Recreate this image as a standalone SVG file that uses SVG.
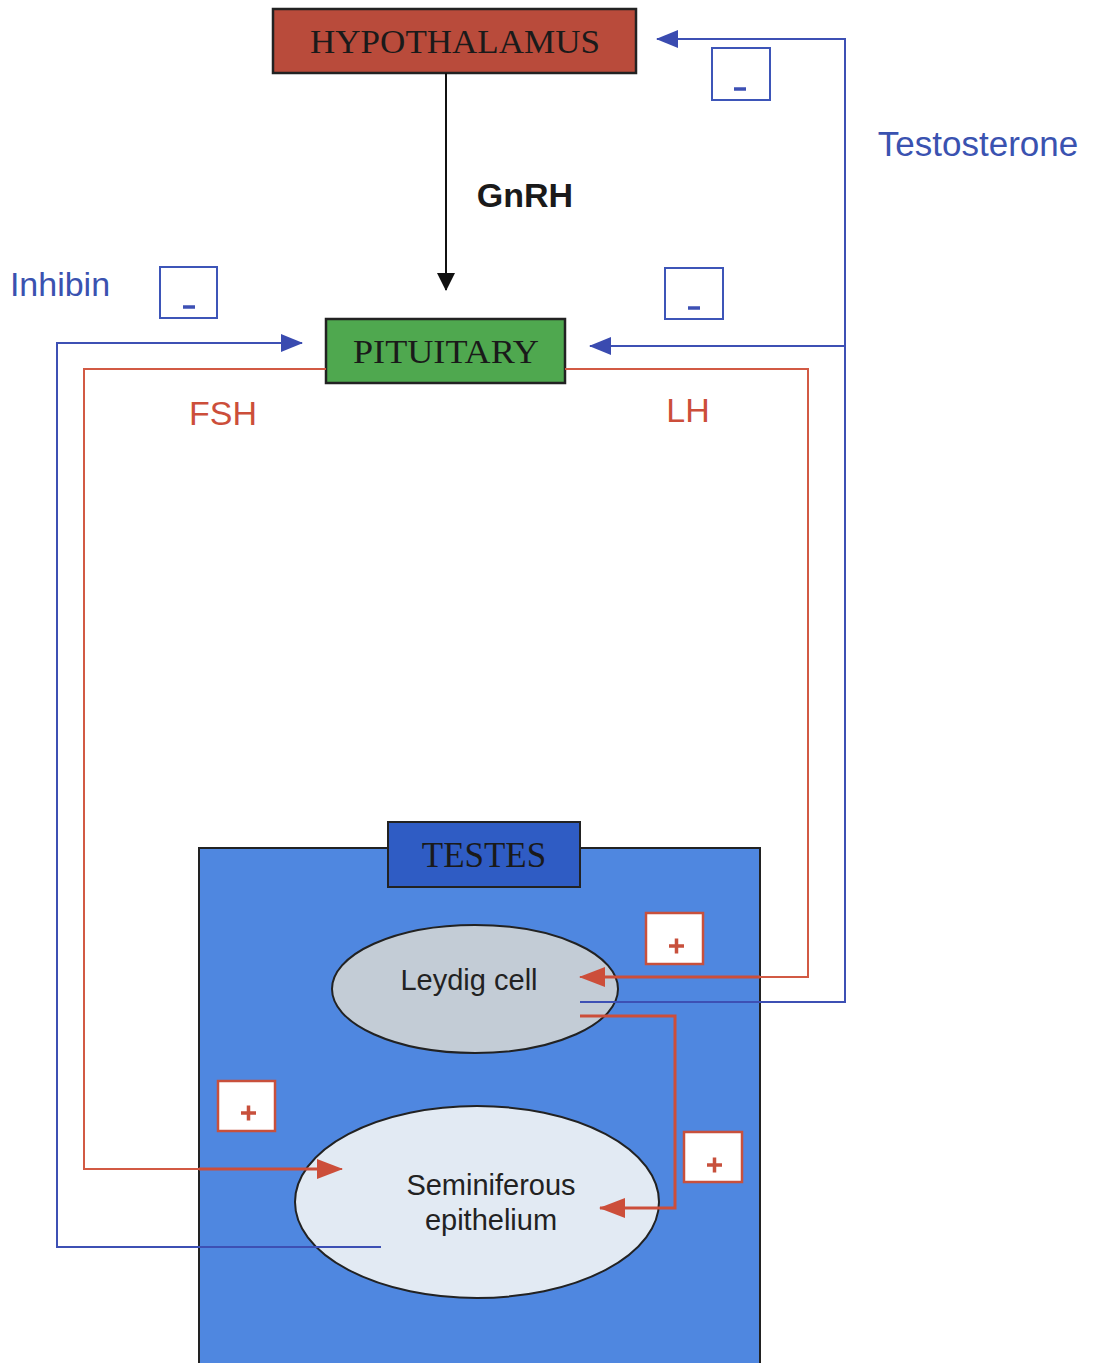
<svg xmlns="http://www.w3.org/2000/svg" width="1098" height="1363" viewBox="0 0 1098 1363">
<style>
.serif{font-family:"Liberation Serif","Times New Roman",serif;fill:#1a1a1a;text-anchor:middle}
.sans{font-family:"Liberation Sans",Arial,sans-serif;text-anchor:middle}
.blue{stroke:#3d50b4;fill:none;stroke-width:2}
.red{stroke:#d25a44;fill:none;stroke-width:2}
.redt{stroke:#cc4e3a;fill:none;stroke-width:3}
.minus{fill:#fff;stroke:#3d55b8;stroke-width:2}
.plus{fill:#fff;stroke:#c8503c;stroke-width:2.5}
</style>
<defs>
<marker id="ab" markerUnits="userSpaceOnUse" markerWidth="22" markerHeight="18" refX="21" refY="9" orient="auto"><path d="M0,0 L22,9 L0,18 Z" fill="#3a4bb0"/></marker>
<marker id="ar" markerUnits="userSpaceOnUse" markerWidth="26" markerHeight="20" refX="25" refY="10" orient="auto"><path d="M0,0 L26,10 L0,20 Z" fill="#cc4e3a"/></marker>
<marker id="ak" markerUnits="userSpaceOnUse" markerWidth="18" markerHeight="22" refX="17" refY="9" orient="auto"><path d="M0,0 L18,9 L0,18 Z" fill="#111"/></marker>
</defs>

<g id="testes">
<rect x="199" y="848" width="561" height="520" fill="#4f87e0" stroke="#222" stroke-width="2"/>
<rect x="388" y="822" width="192" height="65" fill="#2f5cc4" stroke="#222" stroke-width="2"/>
<text class="serif" x="484" y="867" font-size="35">TESTES</text>
</g>

<g id="hypothalamus">
<rect x="273" y="9" width="363" height="64" fill="#b94b3b" stroke="#222" stroke-width="2.5"/>
<text class="serif" x="455" y="53" font-size="33" textLength="290" lengthAdjust="spacingAndGlyphs">HYPOTHALAMUS</text>
</g>

<g id="pituitary">
<rect x="326" y="319" width="239" height="64" fill="#4fa84f" stroke="#222" stroke-width="2.5"/>
<text class="serif" x="446" y="363" font-size="34" textLength="186" lengthAdjust="spacingAndGlyphs">PITUITARY</text>
</g>

<g id="leydig">
<ellipse cx="475" cy="989" rx="143" ry="64" fill="#c3ccd6" stroke="#222" stroke-width="2"/>
<text class="sans" x="469" y="990" font-size="29" fill="#222">Leydig cell</text>
</g>

<g id="seminiferous">
<ellipse cx="477" cy="1202" rx="182" ry="96" fill="#e2eaf3" stroke="#222" stroke-width="2"/>
<text class="sans" x="491" y="1195" font-size="29" fill="#222">Seminiferous</text>
<text class="sans" x="491" y="1230" font-size="29" fill="#222">epithelium</text>
</g>

<g id="connectors">
<line x1="446" y1="73" x2="446" y2="290" stroke="#111" stroke-width="2" marker-end="url(#ak)"/>
<polyline class="blue" points="580,1002 845,1002 845,39 657,39" marker-end="url(#ab)"/>
<polyline class="blue" points="845,346 590,346" marker-end="url(#ab)"/>
<polyline class="blue" points="381,1247 57,1247 57,343 302,343" marker-end="url(#ab)"/>
<polyline class="red" points="326,369 84,369 84,1169 342,1169" marker-end="url(#ar)"/>
<polyline class="red" points="565,369 808,369 808,977 580,977" marker-end="url(#ar)"/>
<polyline class="redt" points="580,1016 675,1016 675,1208 600,1208" marker-end="url(#ar)"/>
<line class="redt" x1="199" y1="1169" x2="320" y2="1169"/>
<line class="redt" x1="760" y1="977" x2="600" y2="977"/>
</g>

<g id="signs">
<rect class="minus" x="712" y="48" width="58" height="52"/>
<line x1="734" y1="89" x2="746" y2="89" stroke="#3d50b4" stroke-width="3.5"/>
<rect class="minus" x="665" y="268" width="58" height="51"/>
<line x1="688" y1="308" x2="700" y2="308" stroke="#3d50b4" stroke-width="3.5"/>
<rect class="minus" x="160" y="267" width="57" height="51"/>
<line x1="183" y1="307" x2="195" y2="307" stroke="#3d50b4" stroke-width="3.5"/>
<rect class="plus" x="646" y="913" width="57" height="51"/>
<path d="M669,946 h15 M676.5,938.5 v15" stroke="#c8503c" stroke-width="3.5"/>
<rect class="plus" x="218" y="1081" width="57" height="50"/>
<path d="M241,1113 h15 M248.5,1105.5 v15" stroke="#c8503c" stroke-width="3.5"/>
<rect class="plus" x="684" y="1132" width="58" height="50"/>
<path d="M707,1165 h15 M714.5,1157.5 v15" stroke="#c8503c" stroke-width="3.5"/>
</g>

<g id="labels">
<text class="sans" x="525" y="207" font-size="34" font-weight="bold" fill="#1a1a1a">GnRH</text>
<text class="sans" x="978" y="156" font-size="35" fill="#3a52b0">Testosterone</text>
<text class="sans" x="60" y="296" font-size="34" fill="#3a52b0">Inhibin</text>
<text class="sans" x="223" y="425" font-size="34" fill="#cc4e3a">FSH</text>
<text class="sans" x="688" y="422" font-size="34" fill="#cc4e3a">LH</text>
</g>
</svg>
